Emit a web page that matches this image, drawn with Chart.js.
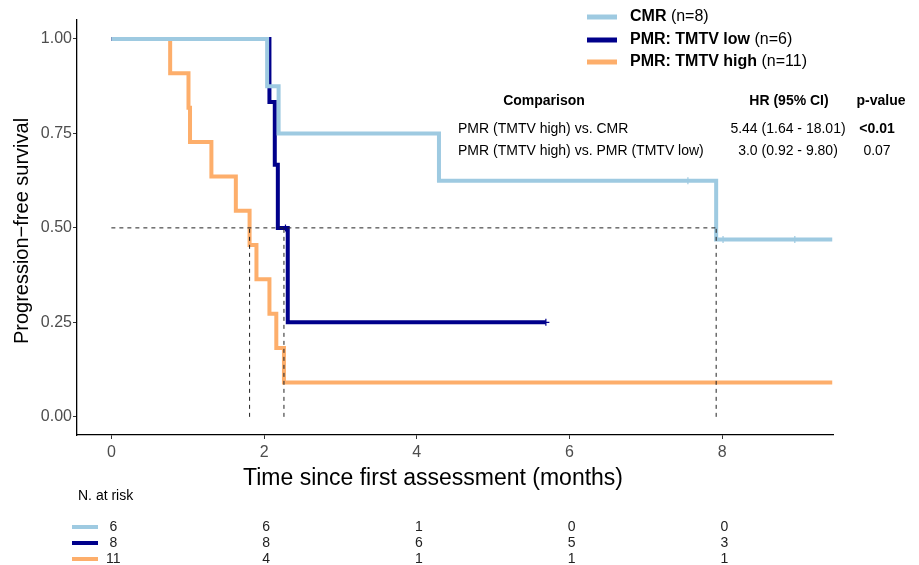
<!DOCTYPE html>
<html>
<head>
<meta charset="utf-8">
<title>Progression-free survival</title>
<script src="https://cdn.jsdelivr.net/npm/chart.js@4.4.1/dist/chart.umd.min.js"></script>
<style>
    html, body { margin: 0; padding: 0; background: #fff; }
    #wrap { width: 919px; height: 565px; }
</style>
</head>
<body>
<div id="wrap"><canvas id="kmChart" width="919" height="565"></canvas></div>
<script>
// Kaplan-Meier step points: time (months) and survival after each step
const cmrTimes = [0, 2.04, 2.19, 4.29, 7.92, 9.44];
const cmrSurv = [1, 0.875, 0.75, 0.625, 0.469, 0.469];
const cmrCensored = [7.55, 8.01, 8.95];

const lowTimes = [0, 2.07, 2.14, 2.18, 2.31, 5.69];
const lowSurv = [1, 0.833, 0.667, 0.5, 0.25, 0.25];
const lowCensored = [2.28, 5.69];

const highTimes = [0, 0.77, 1.01, 1.03, 1.31, 1.63, 1.81, 1.90, 2.07, 2.16, 2.26, 9.44];
const highSurv = [1, 0.909, 0.818, 0.727, 0.636, 0.545, 0.455, 0.364, 0.273, 0.182, 0.091, 0.091];
const highCensored = [];

// median survival times (dashed guides)
const medianTimes = [1.81, 2.26, 7.92];

const xTicks = [0, 2, 4, 6, 8];
const yTicks = [0, 0.25, 0.5, 0.75, 1];

// numbers at risk
const riskTimes = [0, 2, 4, 6, 8];
const riskCmr = [6, 6, 1, 0, 0];
const riskLow = [8, 8, 6, 5, 3];
const riskHigh = [11, 4, 1, 1, 1];

const groupNames = ['CMR', 'PMR: TMTV low', 'PMR: TMTV high'];
const groupSizes = ['(n=8)', '(n=6)', '(n=11)'];
const colors = ['#9ecae1', '#00008b', '#fdae6b'];

const compHeader = ['Comparison', 'HR (95% CI)', 'p-value'];
const compRows = [
    ['PMR (TMTV high) vs. CMR', '5.44 (1.64 - 18.01)', '<0.01'],
    ['PMR (TMTV high) vs. PMR (TMTV low)', '3.0 (0.92 - 9.80)', '0.07']
];

const FONT = '"Liberation Sans", Arial, sans-serif';

function toPoints(times, surv) {
    return times.map((t, i) => ({ x: t, y: surv[i] }));
}

function survivalAt(times, surv, t) {
    let s = surv[0];
    for (let i = 0; i < times.length; i++) {
        if (times[i] <= t) s = surv[i];
    }
    return s;
}

function curveDataset(times, surv, color, order) {
    return {
        data: toPoints(times, surv),
        showLine: true,
        stepped: true,
        borderColor: color,
        borderWidth: 4,
        pointRadius: 0,
        order: order
    };
}

function censorDataset(times, surv, censored, color, order) {
    return {
        data: censored.map(t => ({ x: t, y: survivalAt(times, surv, t) })),
        showLine: false,
        pointStyle: 'cross',
        pointRadius: 3.5,
        borderColor: color,
        borderWidth: 1.2,
        order: order
    };
}

function medianDatasets() {
    const guide = pts => ({
        data: pts,
        showLine: true,
        borderColor: '#222',
        borderWidth: 1,
        borderDash: [4, 4],
        pointRadius: 0,
        order: -1
    });
    const sets = [guide([{ x: 0, y: 0.5 }, { x: Math.max(...medianTimes), y: 0.5 }])];
    medianTimes.forEach(t => sets.push(guide([{ x: t, y: 0 }, { x: t, y: 0.5 }])));
    return sets;
}

// legend, comparison table, axis titles and risk table
const extrasPlugin = {
    id: 'kmExtras',
    afterDraw(chart) {
        const ctx = chart.ctx;
        const xs = chart.scales.x;
        ctx.save();

        // legend
        const legendY = [17, 40, 62];
        groupNames.forEach((name, i) => {
            ctx.strokeStyle = colors[i];
            ctx.lineWidth = 5;
            ctx.beginPath();
            ctx.moveTo(587, legendY[i]);
            ctx.lineTo(617, legendY[i]);
            ctx.stroke();
            ctx.fillStyle = '#000';
            ctx.textBaseline = 'middle';
            ctx.textAlign = 'left';
            ctx.font = 'bold 16px ' + FONT;
            ctx.fillText(name, 630, legendY[i]);
            const w = ctx.measureText(name + ' ').width;
            ctx.font = '16px ' + FONT;
            ctx.fillText(groupSizes[i], 630 + w, legendY[i]);
        });

        // comparison table
        ctx.font = 'bold 14px ' + FONT;
        ctx.textAlign = 'center';
        ctx.fillText(compHeader[0], 544, 101);
        ctx.fillText(compHeader[1], 789, 101);
        ctx.fillText(compHeader[2], 881, 101);
        const rowY = [129, 151];
        compRows.forEach((row, i) => {
            ctx.font = '14px ' + FONT;
            ctx.textAlign = 'left';
            ctx.fillText(row[0], 458, rowY[i]);
            ctx.textAlign = 'center';
            ctx.fillText(row[1], 788, rowY[i]);
            ctx.font = (i === 0 ? 'bold ' : '') + '14px ' + FONT;
            ctx.fillText(row[2], 877, rowY[i]);
        });

        // axis titles
        ctx.fillStyle = '#000';
        ctx.font = '23px ' + FONT;
        ctx.textAlign = 'center';
        ctx.fillText('Time since first assessment (months)', 433, 479);
        ctx.save();
        ctx.translate(22, 231);
        ctx.rotate(-Math.PI / 2);
        ctx.font = '20px ' + FONT;
        ctx.fillText('Progression\u2212free survival', 0, 0);
        ctx.restore();

        // numbers at risk
        ctx.font = '14px ' + FONT;
        ctx.textAlign = 'left';
        ctx.fillStyle = '#000';
        ctx.fillText('N. at risk', 78, 496);
        const riskRows = [riskCmr, riskLow, riskHigh];
        const riskY = [527, 543, 559];
        riskRows.forEach((row, r) => {
            ctx.strokeStyle = colors[r];
            ctx.lineWidth = 4;
            ctx.beginPath();
            ctx.moveTo(72, riskY[r]);
            ctx.lineTo(98, riskY[r]);
            ctx.stroke();
            ctx.fillStyle = '#222';
            ctx.textAlign = 'center';
            row.forEach((n, i) => {
                ctx.fillText(String(n), xs.getPixelForValue(riskTimes[i]) + 2, riskY[r]);
            });
        });

        ctx.restore();
    }
};

function renderChart() {
    const ctx = document.getElementById('kmChart').getContext('2d');
    new Chart(ctx, {
        type: 'scatter',
        data: {
            datasets: [
                curveDataset(cmrTimes, cmrSurv, colors[0], 0),
                censorDataset(cmrTimes, cmrSurv, cmrCensored, colors[0], 0),
                curveDataset(lowTimes, lowSurv, colors[1], 1),
                censorDataset(lowTimes, lowSurv, lowCensored, colors[1], 1),
                curveDataset(highTimes, highSurv, colors[2], 2),
                censorDataset(highTimes, highSurv, highCensored, colors[2], 2),
                ...medianDatasets()
            ]
        },
        options: {
            responsive: false,
            animation: false,
            devicePixelRatio: 1,
            layout: { padding: { left: 0, right: 86, top: 20, bottom: 0 } },
            plugins: {
                legend: { display: false },
                tooltip: { enabled: false }
            },
            scales: {
                x: {
                    type: 'linear',
                    min: -0.45,
                    max: 9.45,
                    afterBuildTicks: scale => { scale.ticks = xTicks.map(v => ({ value: v })); },
                    afterFit: scale => { scale.height = 130; },
                    grid: { drawOnChartArea: false, drawTicks: true, tickLength: 4, color: '#333' },
                    border: { display: true, color: '#000', width: 1.3 },
                    ticks: {
                        padding: 4,
                        color: '#4d4d4d',
                        font: { family: FONT, size: 16 },
                        maxRotation: 0
                    }
                },
                y: {
                    type: 'linear',
                    min: -0.048,
                    max: 1.05,
                    afterBuildTicks: scale => { scale.ticks = yTicks.map(v => ({ value: v })); },
                    afterFit: scale => { scale.width = 77; },
                    grid: { drawOnChartArea: false, drawTicks: true, tickLength: 4, color: '#333' },
                    border: { display: true, color: '#000', width: 1.3 },
                    ticks: {
                        padding: 1,
                        color: '#4d4d4d',
                        font: { family: FONT, size: 16 },
                        callback: v => v.toFixed(2)
                    }
                }
            }
        },
        plugins: [extrasPlugin]
    });
}

renderChart();
</script>
</body>
</html>
